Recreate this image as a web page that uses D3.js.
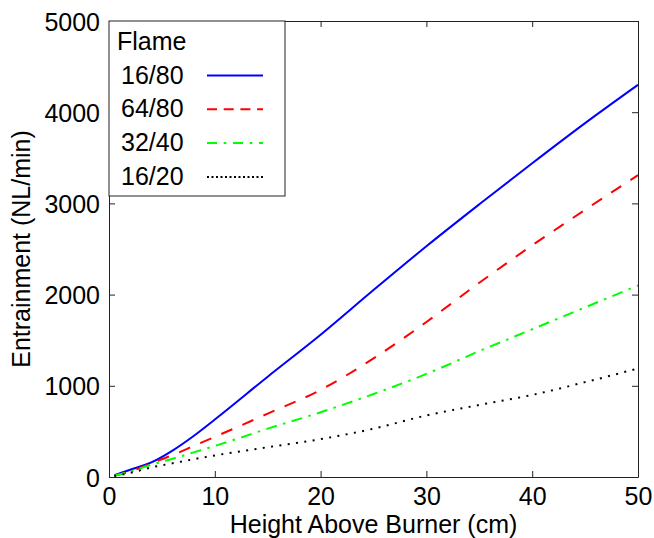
<!DOCTYPE html>
<html>
<head>
<meta charset="utf-8">
<script src="https://cdn.jsdelivr.net/npm/d3@7"></script>
<style>
  html, body { margin: 0; padding: 0; background: #fff; }
  svg { display: block; font-family: "Liberation Sans", Arial, sans-serif; }
</style>
</head>
<body>
<svg id="chart" width="654" height="538"></svg>
<script>
// Height above burner (cm)
const heights = [0.5, 2, 4, 6, 8, 10, 15, 20, 25, 30, 35, 40, 45, 50];

// Entrainment (NL/min) for each flame
const flame16_80 = [20, 80, 160, 290, 450, 630, 1100, 1560, 2050, 2530, 2990, 3440, 3880, 4300];
const flame64_80 = [15, 60, 150, 240, 340, 440, 695, 955, 1300, 1700, 2130, 2540, 2930, 3310];
const flame32_40 = [15, 60, 135, 200, 270, 340, 530, 710, 910, 1130, 1380, 1620, 1860, 2100];
const flame16_20 = [10, 45, 105, 150, 195, 236, 327, 415, 530, 675, 790, 900, 1040, 1190];

const seriesNames = ["16/80", "64/80", "32/40", "16/20"];
const seriesValues = [flame16_80, flame64_80, flame32_40, flame16_20];

const xTicks = [0, 10, 20, 30, 40, 50];
const yTicks = [0, 1000, 2000, 3000, 4000, 5000];

// Styles
const seriesColors = ["#0000ff", "#ff0000", "#00ff00", "#000000"];
const lineDash = [null, "12,11", "11,6.5,2.5,6.5", "2,6.4"];
const legendDash = [null, "10,6.7", "10,6.7,2.6,6.7", "2,2.5"];

const margin = { left: 109, right: 16, top: 21, bottom: 61 };
const width = 654, height = 538;
const svg = d3.select("#chart");

const x = d3.scaleLinear().domain([0, 50]).range([margin.left, width - margin.right]);
const y = d3.scaleLinear().domain([0, 5000]).range([height - margin.bottom, margin.top]);

const fontSize = 25;
const tickLen = 6;
const axisColor = "#222";

// Data lines
const line = d3.line()
  .x((d, i) => x(heights[i]))
  .y(d => y(d))
  .curve(d3.curveMonotoneX);
seriesValues.forEach((vals, k) => {
  svg.append("path")
    .datum(vals)
    .attr("d", line)
    .attr("fill", "none")
    .attr("stroke", seriesColors[k])
    .attr("stroke-width", 2)
    .attr("stroke-dasharray", lineDash[k]);
});

// Axes with inward ticks on all four sides
function styleAxis(g) {
  g.selectAll("path.domain").attr("stroke", axisColor).attr("stroke-width", 1);
  g.selectAll(".tick line").attr("stroke", axisColor).attr("stroke-width", 1);
  g.selectAll(".tick text").attr("fill", "#000").style("font-size", fontSize + "px").style("font-family", "Liberation Sans, Arial, sans-serif");
}

svg.append("g")
  .attr("transform", `translate(0,${y(0)})`)
  .call(d3.axisBottom(x).tickValues(xTicks).tickSizeInner(-tickLen).tickSizeOuter(0).tickPadding(10.5))
  .call(styleAxis);

svg.append("g")
  .attr("transform", `translate(0,${y(5000)})`)
  .call(d3.axisTop(x).tickValues(xTicks).tickSizeInner(-tickLen).tickSizeOuter(0).tickFormat(""))
  .call(styleAxis);

svg.append("g")
  .attr("transform", `translate(${x(0)},0)`)
  .call(d3.axisLeft(y).tickValues(yTicks).tickSizeInner(-tickLen).tickSizeOuter(0).tickPadding(9).tickFormat(d3.format("d")))
  .call(styleAxis)
  .selectAll(".tick text").attr("dy", "0.36em");

svg.append("g")
  .attr("transform", `translate(${x(50)},0)`)
  .call(d3.axisRight(y).tickValues(yTicks).tickSizeInner(-tickLen).tickSizeOuter(0).tickFormat(""))
  .call(styleAxis);

// Axis titles
svg.append("text")
  .attr("x", (x(0) + x(50)) / 2)
  .attr("y", 533)
  .attr("text-anchor", "middle")
  .style("font-size", fontSize + "px")
  .text("Height Above Burner (cm)");

svg.append("text")
  .attr("transform", `translate(30,${(y(0) + y(5000)) / 2}) rotate(-90)`)
  .attr("text-anchor", "middle")
  .style("font-size", fontSize + "px")
  .text("Entrainment (NL/min)");

// Legend
const legend = svg.append("g");
legend.append("rect")
  .attr("x", x(0)).attr("y", y(5000))
  .attr("width", 176).attr("height", 175)
  .attr("fill", "#fff").attr("stroke", axisColor).attr("stroke-width", 1);
legend.append("text")
  .attr("x", x(0) + 8).attr("y", 50)
  .style("font-size", fontSize + "px")
  .text("Flame");
seriesNames.forEach((name, k) => {
  const cy = 75.5 + k * 33.8;
  legend.append("text")
    .attr("x", x(0) + 12).attr("y", cy + 8)
    .style("font-size", fontSize + "px")
    .text(name);
  legend.append("line")
    .attr("x1", x(0) + 98).attr("x2", x(0) + 154)
    .attr("y1", cy).attr("y2", cy)
    .attr("stroke", seriesColors[k])
    .attr("stroke-width", 2)
    .attr("stroke-dasharray", legendDash[k]);
});
</script>
</body>
</html>
